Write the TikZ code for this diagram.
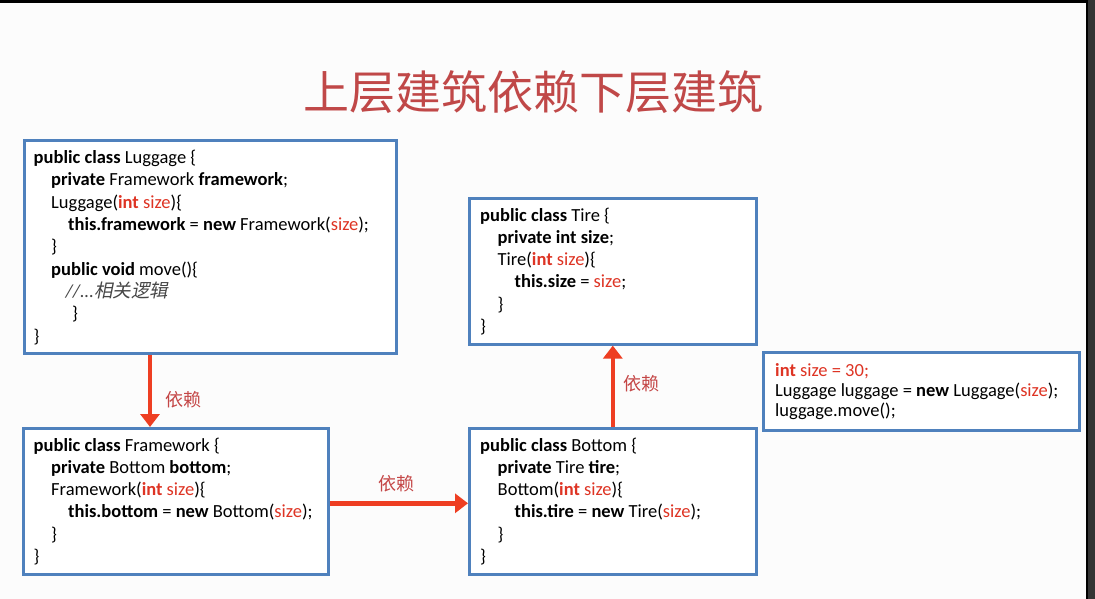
\documentclass[tikz,border=0pt]{standalone}
\usepackage{fontspec}
\setmainfont{Carlito}
\newfontfamily\cjk{Noto Sans CJK SC}
\newfontfamily\cjkit{Noto Sans CJK SC}[FakeSlant=0.2]
\usetikzlibrary{arrows.meta}
\definecolor{boxblue}{RGB}{79,129,189}
\definecolor{codered}{RGB}{222,52,36}
\definecolor{titlered}{RGB}{192,72,72}
\definecolor{labelred}{RGB}{196,70,70}
\definecolor{arrowred}{RGB}{238,62,34}
\definecolor{bgcol}{RGB}{252,252,252}
\definecolor{frameg}{RGB}{52,52,52}
\definecolor{commentg}{RGB}{70,70,70}
\newcommand{\rd}[1]{\textcolor{codered}{#1}}
\newcommand{\ia}{\hspace*{17.5pt}}
\newcommand{\ib}{\hspace*{34.5pt}}
\tikzset{
  box/.style={draw=boxblue, line width=2.6pt, fill=white, rectangle, inner sep=0pt, anchor=north west},
  code/.style={inner sep=0pt, align=left, anchor=base west, text=black, font=\fontsize{18.5}{22.3}\selectfont},
  dep/.style={draw=arrowred, line width=4.5pt, -{Triangle[length=13pt,width=19pt]}},
  deplabel/.style={text=labelred, font=\cjk\fontsize{18}{20}\selectfont, inner sep=0pt}
}
\begin{document}
\begin{tikzpicture}[x=1pt,y=-1pt]
\useasboundingbox (0,0) rectangle (1095,599);
\fill[bgcol] (0,0) rectangle (1095,599);
\fill[black] (0,0) rectangle (1095,3);
\fill[black] (1086,0) rectangle (1088,599);
\fill[frameg] (1088,0) rectangle (1095,599);

\node[text=titlered, font=\cjk\fontsize{46}{50}\selectfont, inner sep=0pt] (title) at (533,92) {上层建筑依赖下层建筑};

% boxes
\node[box, minimum width=372pt, minimum height=213pt] (lug) at (23,139) {};
\node[box, minimum width=287pt, minimum height=146pt] (tire) at (468,197) {};
\node[box, minimum width=305pt, minimum height=146pt] (fw) at (22,427) {};
\node[box, minimum width=287pt, minimum height=146pt] (bot) at (468,427) {};
\node[box, minimum width=316pt, minimum height=78pt] (mainbox) at (762,351) {};

% code texts (anchored at the baseline of the last line)
\node[code] (lugtxt) at (33.5,342) {%
\textbf{public class} Luggage \{\\
\ia\textbf{private} Framework \textbf{framework};\\
\ia Luggage(\rd{\textbf{int} size})\{\\
\ib\textbf{this.framework} = \textbf{new} Framework(\rd{size});\\
\ia\}\\
\ia\textbf{public void} move()\{\\
\hspace*{32pt}{\color{commentg}\itshape //...\cjkit 相关逻辑}\\
\hspace*{38.5pt}\}\\
\}};

\node[code] (tiretxt) at (480,332.5) {%
\textbf{public class} Tire \{\\
\ia\textbf{private int size};\\
\ia Tire(\rd{\textbf{int} size})\{\\
\ib\textbf{this.size} = \rd{size};\\
\ia\}\\
\}};

\node[code] (fwtxt) at (33.5,562.5) {%
\textbf{public class} Framework \{\\
\ia\textbf{private} Bottom \textbf{bottom};\\
\ia Framework(\rd{\textbf{int} size})\{\\
\ib\textbf{this.bottom} = \textbf{new} Bottom(\rd{size});\\
\ia\}\\
\}};

\node[code] (bottxt) at (480,562.5) {%
\textbf{public class} Bottom \{\\
\ia\textbf{private} Tire \textbf{tire};\\
\ia Bottom(\rd{\textbf{int} size})\{\\
\ib\textbf{this.tire} = \textbf{new} Tire(\rd{size});\\
\ia\}\\
\}};

\node[code, font=\fontsize{18.5}{20.3}\selectfont] (maintxt) at (775,416.6) {%
\rd{\textbf{int} size = 30;}\\
Luggage luggage = \textbf{new} Luggage(\rd{size});\\
luggage.move();};

% arrows
\draw[dep] ([xshift=127pt]lug.south west) -- ([xshift=128pt]fw.north west);
\draw[dep] ([yshift=-2pt]fw.east) -- ([yshift=-2pt]bot.west);
\draw[dep] (bot.north) -- (tire.south);

\node[deplabel] (l1) at (183,400) {依赖};
\node[deplabel] (l2) at (396,484) {依赖};
\node[deplabel] (l3) at (641,384) {依赖};
\end{tikzpicture}
\end{document}
